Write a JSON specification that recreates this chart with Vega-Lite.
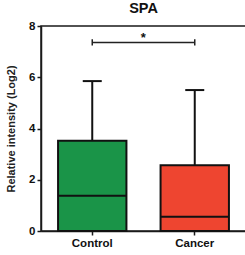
{
  "$schema": "https://vega.github.io/schema/vega-lite/v6.json",
  "autosize": "none",
  "padding": {"left": 41, "top": 26, "right": 0, "bottom": 24},
  "width": 205,
  "height": 205,
  "config": {
    "font": "Liberation Sans",
    "view": {"stroke": "#1a1a1a", "strokeWidth": 1.5}
  },
  "title": {"text": "SPA", "fontSize": 14.5, "fontWeight": "bold", "anchor": "middle", "offset": 4, "color": "#111"},
  "datasets": {
    "boxes": [
      {"group": "Control", "q1": 0, "median": 1.38, "q3": 3.52, "max": 5.85},
      {"group": "Cancer", "q1": 0, "median": 0.56, "q3": 2.57, "max": 5.5}
    ],
    "sig": [
      {"from": "Control", "to": "Cancer", "y": 7.36, "label": "*"}
    ],
    "ends": [
      {"group": "Control", "lo": 7.24, "hi": 7.48},
      {"group": "Cancer", "lo": 7.24, "hi": 7.48}
    ]
  },
  "encoding": {
    "x": {
      "field": "group", "type": "nominal", "sort": ["Control", "Cancer"],
      "scale": {"domain": ["Control", "Cancer"], "paddingInner": 0.333, "paddingOuter": 0.1665},
      "axis": {"title": null, "labelAngle": 0, "labelFontSize": 11.5, "labelFontWeight": "bold", "labelColor": "#111", "tickSize": 4, "tickColor": "#1a1a1a", "tickWidth": 1.5, "domainColor": "#1a1a1a", "domainWidth": 1.5, "labelPadding": 2}
    }
  },
  "layer": [
    {
      "data": {"name": "boxes"},
      "mark": {"type": "rule", "stroke": "#111", "strokeWidth": 2},
      "encoding": {
        "y": {"field": "q3", "type": "quantitative", "scale": {"domain": [0, 8]},
          "axis": {"title": "Relative intensity (Log2)", "titleFontSize": 11, "titleFontWeight": "bold", "titleColor": "#222", "titlePadding": 12, "values": [0, 2, 4, 6, 8], "grid": false, "labelFontSize": 11.5, "labelFontWeight": "bold", "labelColor": "#111", "tickSize": 4, "tickColor": "#1a1a1a", "tickWidth": 1.5, "domainColor": "#1a1a1a", "domainWidth": 1.5, "labelPadding": 2}},
        "y2": {"field": "max"}
      }
    },
    {
      "data": {"name": "boxes"},
      "mark": {"type": "tick", "color": "#111", "thickness": 2, "size": 19, "orient": "horizontal", "opacity": 1},
      "encoding": {
        "y": {"field": "max", "type": "quantitative"}
      }
    },
    {
      "data": {"name": "boxes"},
      "mark": {"type": "bar", "stroke": "#111", "strokeWidth": 2, "opacity": 1},
      "encoding": {
        "y": {"field": "q1", "type": "quantitative"},
        "y2": {"field": "q3"},
        "color": {"field": "group", "type": "nominal", "scale": {"domain": ["Control", "Cancer"], "range": ["#1a9448", "#ee4530"]}, "legend": null}
      }
    },
    {
      "data": {"name": "boxes"},
      "mark": {"type": "tick", "color": "#111", "thickness": 2, "size": 68, "orient": "horizontal", "opacity": 1},
      "encoding": {
        "y": {"field": "median", "type": "quantitative"}
      }
    },
    {
      "data": {"name": "sig"},
      "mark": {"type": "rule", "stroke": "#222", "strokeWidth": 1.5},
      "encoding": {
        "x": {"field": "from", "type": "nominal"},
        "x2": {"field": "to"},
        "y": {"field": "y", "type": "quantitative"}
      }
    },
    {
      "data": {"name": "ends"},
      "mark": {"type": "rule", "stroke": "#222", "strokeWidth": 1.5},
      "encoding": {
        "y": {"field": "lo", "type": "quantitative"},
        "y2": {"field": "hi"}
      }
    },
    {
      "data": {"name": "sig"},
      "mark": {"type": "text", "fontSize": 13, "fontWeight": "bold", "dx": 51, "dy": 3, "baseline": "bottom", "color": "#111"},
      "encoding": {
        "x": {"field": "from", "type": "nominal"},
        "y": {"field": "y", "type": "quantitative"},
        "text": {"field": "label"}
      }
    }
  ]
}
